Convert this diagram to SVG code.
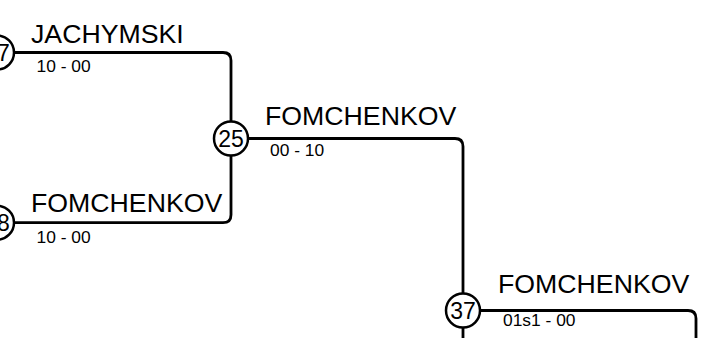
<svg xmlns="http://www.w3.org/2000/svg" width="715" height="338" viewBox="0 0 715 338">
<style>
.ln{fill:none;stroke:#000;stroke-width:2.8;stroke-linejoin:round}
.nd{fill:#fff;stroke:#000;stroke-width:2.5}
.num{font-family:"Liberation Sans",Arial,sans-serif;font-size:23px;text-anchor:middle;fill:#000}
.name{font-family:"Liberation Sans",Arial,sans-serif;font-size:26.7px;fill:#000}
.sc{font-family:"Liberation Sans",Arial,sans-serif;font-size:17.4px;fill:#000}
</style>
<rect width="715" height="338" fill="#fff"/>
<g id="connectors">
<path class="ln" d="M15 52.5 H223 Q231 52.5 231 60.5 V138.5"/>
<path class="ln" d="M15 222.7 H223 Q231 222.7 231 214.7 V138.5"/>
<path class="ln" d="M231 138.5 H455 Q463 138.5 463 146.5 V340"/>
<path class="ln" d="M463 310.5 H688 Q696 310.5 696 318.5 V340"/>
</g>
<g id="n17"><circle class="nd" cx="-3" cy="52.5" r="17"/><text class="num" x="-3" y="60.8">17</text></g>
<g id="n18"><circle class="nd" cx="-3" cy="222.7" r="17"/><text class="num" x="-3" y="231">18</text></g>
<g id="n25"><circle class="nd" cx="231" cy="138.5" r="17"/><text class="num" x="231" y="146.8">25</text></g>
<g id="n37"><circle class="nd" cx="463" cy="310.5" r="17"/><text class="num" x="463" y="318.8">37</text></g>
<g id="labels">
<text class="name" x="31" y="43.3">JACHYMSKI</text>
<text class="sc" x="36.5" y="72.3">10 - 00</text>
<text class="name" x="31" y="211.7">FOMCHENKOV</text>
<text class="sc" x="36.5" y="242.5">10 - 00</text>
<text class="name" x="265" y="125">FOMCHENKOV</text>
<text class="sc" x="270" y="155.5">00 - 10</text>
<text class="name" x="498" y="293">FOMCHENKOV</text>
<text class="sc" x="503" y="325.5">01s1 - 00</text>
</g>
</svg>
